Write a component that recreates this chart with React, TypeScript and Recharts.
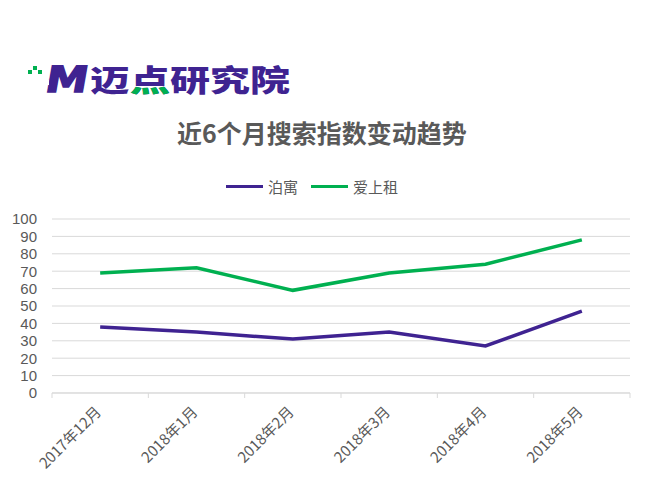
import React from 'react'
import { LineChart, Line, XAxis, YAxis, CartesianGrid, Legend } from 'recharts'

const months = ['2017年12月', '2018年1月', '2018年2月', '2018年3月', '2018年4月', '2018年5月']
const boyu = [38, 35, 31, 35, 27, 47]
const aishangzu = [69, 72, 59, 69, 74, 88]
const yTicks = [0, 10, 20, 30, 40, 50, 60, 70, 80, 90, 100]

const seriesOrder = ['boyu', 'aishangzu']
const seriesNames: Record<string, string> = { boyu: '泊寓', aishangzu: '爱上租' }
const PURPLE = '#3f2391'
const GREEN = '#00b050'
const GREY = '#595959'
const GRID = '#d9d9d9'
const FONT = '"Noto Sans CJK SC", "Liberation Sans", sans-serif'

const data = months.map((m, i) => ({ month: m, boyu: boyu[i], aishangzu: aishangzu[i] }))

function MonthTick(props: any) {
  const { x, y, payload, index, visibleTicksCount, width } = props
  const half = payload.offset ?? width / visibleTicksCount / 2
  return (
    <g>
      <line x1={x - half} y1={y} x2={x - half} y2={y + 5} stroke={GRID} />
      {index === visibleTicksCount - 1 && (
        <line x1={x + half} y1={y} x2={x + half} y2={y + 5} stroke={GRID} />
      )}
      <text
        transform={`translate(${x + 2},${y + 20}) rotate(-45)`}
        textAnchor="end"
        fontSize={15}
        fill={GREY}
        fontFamily={FONT}
      >
        {payload.value}
      </text>
    </g>
  )
}

function LegendContent(props: any) {
  const items = seriesOrder
    .map((k) => props.payload.find((p: any) => p.dataKey === k))
    .filter(Boolean)
  return (
    <div style={{ display: 'flex', alignItems: 'center', gap: 13 }}>
      {items.map((p: any) => (
        <div key={p.dataKey} style={{ display: 'flex', alignItems: 'center', gap: 5 }}>
          <span style={{ display: 'inline-block', width: 37, height: 3.5, background: p.color }} />
          <span style={{ fontSize: 15, color: GREY, fontFamily: FONT }}>
            {seriesNames[p.dataKey]}
          </span>
        </div>
      ))}
    </div>
  )
}

function Logo() {
  return (
    <svg width={300} height={44} style={{ position: 'absolute', left: 20, top: 56 }}>
      <defs>
        <clipPath id="dianBottom">
          <rect x={0} y={31} width={300} height={13} />
        </clipPath>
      </defs>
      <rect x={8} y={14} width={4} height={4} fill={GREEN} />
      <rect x={13} y={10} width={4} height={4} fill={GREEN} />
      <rect x={18} y={14} width={4} height={4} fill={GREEN} />
      <g transform="translate(24,36) skewX(-10)">
        <text x={0} y={0} fontSize={36} fontWeight={700} fill={PURPLE}
          fontFamily='"DejaVu Sans", sans-serif' textLength={42} lengthAdjust="spacingAndGlyphs"
          stroke={PURPLE} strokeWidth={1.5}>M</text>
      </g>
      <rect x={23} y={14} width={6} height={5} fill="#fff" />
      <rect x={23} y={24} width={6} height={5} fill="#fff" />
      <text x={70} y={35} fontSize={30} fontWeight={900} fill={PURPLE} fontFamily={FONT}
        textLength={40} lengthAdjust="spacingAndGlyphs">迈</text>
      <text x={110} y={35} fontSize={30} fontWeight={900} fill={PURPLE} fontFamily={FONT}
        textLength={40} lengthAdjust="spacingAndGlyphs">点</text>
      <text x={110} y={35} fontSize={30} fontWeight={900} fill={GREEN} fontFamily={FONT}
        textLength={40} lengthAdjust="spacingAndGlyphs" clipPath="url(#dianBottom)">点</text>
      <text x={150} y={35} fontSize={30} fontWeight={900} fill={PURPLE} fontFamily={FONT}
        textLength={120} lengthAdjust="spacingAndGlyphs">研究院</text>
    </svg>
  )
}

export default function App() {
  return (
    <div style={{ position: 'absolute', left: 0, top: 0, width: 650, height: 483, background: '#fff', overflow: 'hidden' }}>
      <Logo />
      <div style={{
        position: 'absolute', top: 114, left: 0, width: 644, textAlign: 'center',
        fontSize: 25, fontWeight: 700, color: GREY, fontFamily: FONT, lineHeight: '36px',
      }}>
        近6个月搜索指数变动趋势
      </div>
      <LineChart
        width={650}
        height={483}
        data={data}
        margin={{ top: 219, right: 20, bottom: 0, left: 0 }}
        style={{ position: 'absolute', left: 0, top: 0 }}
      >
        <CartesianGrid vertical={false} stroke={GRID} />
        <XAxis
          dataKey="month"
          scale="band"
          height={90}
          interval={0}
          stroke={GRID}
          tickLine={false}
          tickSize={0}
          tickMargin={0}
          tick={<MonthTick />}
        />
        <YAxis
          domain={[0, 100]}
          ticks={yTicks}
          interval={0}
          width={52}
          axisLine={false}
          tickLine={false}
          tickSize={6}
          tickMargin={9}
          tick={{ fontSize: 15, fill: GREY, fontFamily: '"Liberation Sans", sans-serif' }}
        />
        <Legend
          layout="horizontal"
          verticalAlign="middle"
          align="center"
          wrapperStyle={{ left: 226, top: 176, width: 'auto' }}
          content={<LegendContent />}
        />
        <Line type="linear" dataKey="boyu" stroke={PURPLE} strokeWidth={3.5} dot={false} isAnimationActive={false} />
        <Line type="linear" dataKey="aishangzu" stroke={GREEN} strokeWidth={3.5} dot={false} isAnimationActive={false} />
      </LineChart>
    </div>
  )
}
